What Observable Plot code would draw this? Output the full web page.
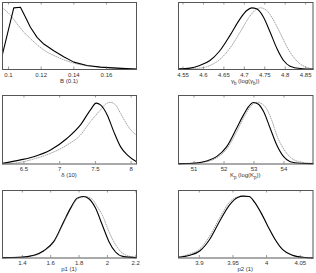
<!DOCTYPE html>
<html><head><meta charset="utf-8">
<script src="https://cdn.jsdelivr.net/npm/d3@7"></script>
<script src="https://cdn.jsdelivr.net/npm/@observablehq/plot@0.6"></script>
<style>
body{margin:0;background:#fff;}
#c{position:relative;width:316px;height:273px;overflow:hidden;font-family:"Liberation Sans",Arial,sans-serif;}
#c svg{position:absolute;overflow:visible;}
.lab{position:absolute;font-size:6px;color:#333;white-space:nowrap;transform:translateX(-50%);line-height:1;}
.lab sub{font-size:4.5px;vertical-align:-1.5px;}
</style></head><body><div id="c"></div>
<script>
// ---- data (normalized densities) ----
const bTicks = ["0.1","0.12","0.14","0.16"];
const bSolidX = [0.0963,0.1032,0.1073,0.1104,0.1134,0.1175,0.1216,0.1277,0.1338,0.1400,0.1481,0.1563,0.1665,0.178];
const bSolidY = [0.23,0.92,0.93,0.78,0.63,0.48,0.38,0.28,0.19,0.11,0.06,0.035,0.02,0.005];
const bDotX = [0.0971,0.1012,0.1053,0.1093,0.1134,0.1175,0.1216,0.1277,0.1338,0.1400,0.1481,0.1563,0.1665,0.178];
const bDotY = [0.906,0.81,0.68,0.56,0.46,0.37,0.29,0.21,0.145,0.095,0.055,0.035,0.018,0.01];

const gTicks = ["4.55","4.6","4.65","4.7","4.75","4.8","4.85"];
const gSolidX = [4.5397,4.567,4.591,4.616,4.640,4.665,4.690,4.706,4.718,4.730,4.747,4.763,4.780,4.796,4.812,4.837,4.868];
const gSolidY = [0.01,0.02,0.06,0.134,0.28,0.51,0.76,0.88,0.92,0.905,0.78,0.56,0.31,0.134,0.05,0.015,0.005];
const gDotX = [4.5397,4.591,4.616,4.640,4.665,4.690,4.714,4.730,4.740,4.755,4.771,4.788,4.804,4.821,4.837,4.853,4.868];
const gDotY = [0.005,0.02,0.06,0.15,0.32,0.56,0.8,0.9,0.92,0.88,0.74,0.54,0.34,0.18,0.08,0.03,0.01];

const dTicks = ["6.5","7","7.5","8"];
const dSolidX = [6.2,6.452,6.638,6.872,7.105,7.291,7.431,7.511,7.571,7.665,7.757,7.851,7.945,8.075];
const dSolidY = [0.01,0.06,0.107,0.205,0.376,0.57,0.79,0.888,0.863,0.717,0.473,0.254,0.132,0.034];
const dDotX = [6.2,6.452,6.638,6.872,7.105,7.291,7.431,7.571,7.641,7.711,7.781,7.851,7.945,8.015,8.075];
const dDotY = [0.0,0.024,0.073,0.156,0.278,0.424,0.62,0.79,0.873,0.9,0.863,0.741,0.571,0.473,0.424];

const kTicks = ["51","52","53","54"];
const kSolidX = [50.49,51.08,51.42,51.75,52.09,52.42,52.65,52.82,52.98,53.15,53.32,53.54,53.76,53.99,54.21,54.55,54.97];
const kSolidY = [0.005,0.015,0.044,0.107,0.254,0.522,0.717,0.839,0.898,0.873,0.766,0.522,0.278,0.107,0.034,0.01,0.005];
const kDotX = [50.49,51.42,51.75,52.09,52.42,52.65,52.87,53.09,53.26,53.43,53.6,53.76,53.99,54.21,54.55,54.97];
const kDotY = [0.003,0.035,0.09,0.22,0.47,0.67,0.83,0.9,0.88,0.8,0.63,0.42,0.22,0.10,0.03,0.01];

const p1Ticks = ["1.4","1.6","1.8","2","2.2"];
const p1SolidX = [1.26,1.387,1.481,1.551,1.622,1.692,1.740,1.787,1.829,1.869,1.916,1.963,2.010,2.057,2.115,2.198];
const p1SolidY = [0.005,0.01,0.04,0.108,0.246,0.542,0.739,0.887,0.911,0.877,0.739,0.493,0.246,0.089,0.02,0.005];
const p1DotX = [1.26,1.481,1.551,1.622,1.692,1.740,1.787,1.845,1.893,1.928,1.963,2.010,2.057,2.115,2.198];
const p1DotY = [0.003,0.035,0.1,0.235,0.52,0.72,0.87,0.91,0.87,0.76,0.64,0.394,0.197,0.059,0.01];

const p2Ticks = ["3.9","3.95","4","4.05"];
const p2SolidX = [3.8694,3.886,3.901,3.915,3.930,3.945,3.957,3.965,3.974,3.982,3.992,4.002,4.012,4.024,4.039,4.054,4.069];
const p2SolidY = [0.01,0.04,0.108,0.271,0.542,0.788,0.897,0.916,0.911,0.828,0.665,0.468,0.286,0.123,0.039,0.01,0.0];
const p2DotX = [3.8694,3.886,3.901,3.915,3.930,3.945,3.957,3.965,3.974,3.982,3.992,4.002,4.012,4.024,4.039,4.054,4.069];
const p2DotY = [0.015,0.06,0.138,0.32,0.59,0.83,0.905,0.916,0.91,0.828,0.665,0.468,0.286,0.123,0.039,0.01,0.0];

const labels = ["B (0.1)", "γ<sub>b</sub> (log(γ<sub>b</sub>))", "δ (10)", "K<sub>p</sub> (log(K<sub>p</sub>))", "p1 (1)", "p2 (1)"];

// ---- layout ----
const cols = [[2,136],[178,312.5]];
const rows = [[2,69],[95,163.5],[190,257.5]];
const panels = [
  {ticks:bTicks, domain:[0.0963,0.1784], sx:bSolidX, sy:bSolidY, dx:bDotX, dy:bDotY, curve:"linear"},
  {ticks:gTicks, domain:[4.539,4.868], sx:gSolidX, sy:gSolidY, dx:gDotX, dy:gDotY},
  {ticks:dTicks, domain:[6.2,8.075], sx:dSolidX, sy:dSolidY, dx:dDotX, dy:dDotY},
  {ticks:kTicks, domain:[50.48,54.97], sx:kSolidX, sy:kSolidY, dx:kDotX, dy:kDotY},
  {ticks:p1Ticks, domain:[1.26,2.205], sx:p1SolidX, sy:p1SolidY, dx:p1DotX, dy:p1DotY},
  {ticks:p2Ticks, domain:[3.869,4.069], sx:p2SolidX, sy:p2SolidY, dx:p2DotX, dy:p2DotY}
];
const c = document.getElementById("c");
const M = 8, MT = 4, MB = 20;
panels.forEach((p, i) => {
  const [x0, x1] = cols[i % 2], [y0, y1] = rows[Math.floor(i / 2)];
  const w = x1 - x0, h = y1 - y0;
  const tv = p.ticks.map(Number);
  const solid = p.sx.map((x, j) => ({x, y: p.sy[j]}));
  const dot = p.dx.map((x, j) => ({x, y: p.dy[j]}));
  const tl = 2.5 / h;
  const svg = Plot.plot({
    width: w + 2 * M, height: h + MT + MB,
    marginLeft: M, marginRight: M, marginTop: MT, marginBottom: MB,
    style: {fontSize: "6px", fontFamily: "'Liberation Sans', Arial, sans-serif", color: "#333", background: "transparent"},
    x: {domain: p.domain, ticks: tv},
    y: {domain: [0, 1], axis: null},
    marks: [
      Plot.line(dot, {x: "x", y: "y", stroke: "#999", strokeWidth: 0.9, strokeDasharray: "0.9,1.4", curve: "monotone-x"}),
      Plot.line(solid, {x: "x", y: "y", stroke: "#000", strokeWidth: 1.1, curve: p.curve || "monotone-x"}),
      Plot.ruleX(tv, {y1: 0, y2: tl, stroke: "#555", strokeWidth: 0.6}),
      Plot.ruleX(tv, {y1: 1 - tl, y2: 1, stroke: "#555", strokeWidth: 0.6}),
      Plot.axisX({ticks: tv, tickSize: 0, tickPadding: 3, label: null, tickFormat: (d) => p.ticks[tv.indexOf(d)]}),
      Plot.frame({stroke: "#555", strokeWidth: 1})
    ]
  });
  svg.style.left = (x0 - M) + "px";
  svg.style.top = (y0 - MT) + "px";
  c.appendChild(svg);
  const lab = document.createElement("div");
  lab.className = "lab";
  lab.innerHTML = labels[i];
  lab.style.left = ((x0 + x1) / 2) + "px";
  lab.style.top = (y1 + 8.5) + "px";
  c.appendChild(lab);
});
</script></body></html>
